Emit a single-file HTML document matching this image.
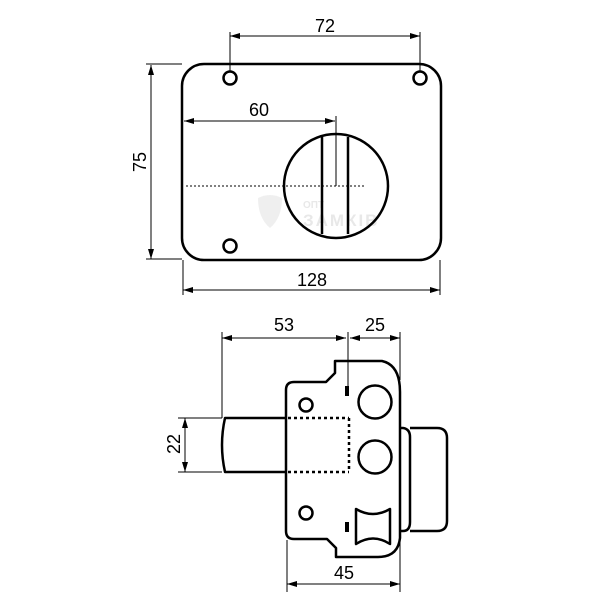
<!DOCTYPE html>
<html><head><meta charset="utf-8"><style>
html,body{margin:0;padding:0;background:#fff;}
svg{display:block;}
text{font-family:"Liberation Sans",sans-serif;font-size:18px;fill:#000;}
</style></head><body>
<svg width="600" height="600" viewBox="0 0 600 600" xmlns="http://www.w3.org/2000/svg">
<defs>
<marker id="a" viewBox="0 0 10 6" refX="10" refY="3" markerWidth="10" markerHeight="6" orient="auto-start-reverse" markerUnits="userSpaceOnUse"><path d="M0,0 L10,3 L0,6 z" fill="#000"/></marker>
</defs>
<!-- watermark -->
<g fill="#eee" opacity="0.9">
<path d="M258,198 q12,-6 24,0 q0,20 -12,30 q-12,-10 -12,-30z"/>
<text x="303" y="208" style="font-size:10px;fill:#e6e6e6;font-weight:bold">ОПТ</text>
<text x="303" y="226" style="font-size:17px;fill:#e6e6e6;font-weight:bold;letter-spacing:2px">ЗАМКІВ</text>
</g>
<!-- top plate -->
<rect x="182" y="64" width="259" height="196" rx="22" fill="none" stroke="#000" stroke-width="2.5"/>
<g fill="none" stroke="#000" stroke-width="2.5">
<circle cx="230" cy="78" r="6.5"/><circle cx="420" cy="78" r="6.5"/><circle cx="230" cy="246" r="6.5"/>
<circle cx="336" cy="186" r="52"/>
<line x1="322" y1="137" x2="322" y2="234"/><line x1="348" y1="137" x2="348" y2="234"/>
</g>
<line x1="186" y1="186" x2="366" y2="186" stroke="#000" stroke-width="1" stroke-dasharray="2,2"/>
<g stroke="#000" stroke-width="1" fill="none">
<line x1="336" y1="116" x2="336" y2="186"/>
<line x1="184" y1="121" x2="335" y2="121" marker-start="url(#a)" marker-end="url(#a)"/>
<line x1="230" y1="32" x2="230" y2="72"/><line x1="420" y1="32" x2="420" y2="72"/>
<line x1="230" y1="36" x2="420" y2="36" marker-start="url(#a)" marker-end="url(#a)"/>
<line x1="146" y1="64" x2="182" y2="64"/><line x1="146" y1="259" x2="182" y2="259"/>
<line x1="151" y1="65" x2="151" y2="259" marker-start="url(#a)" marker-end="url(#a)"/>
<line x1="183" y1="260" x2="183" y2="295"/><line x1="440" y1="260" x2="440" y2="295"/>
<line x1="183" y1="290" x2="440" y2="290" marker-start="url(#a)" marker-end="url(#a)"/>
</g>
<text x="325" y="32" text-anchor="middle">72</text>
<text x="259" y="116" text-anchor="middle">60</text>
<text x="312" y="286" text-anchor="middle">128</text>
<text transform="translate(146,162) rotate(-90)" text-anchor="middle">75</text>
<!-- bottom -->
<g fill="none" stroke="#000" stroke-width="2.5" stroke-linejoin="round">
<path d="M294,382 L326,382 L335,373 L335,361 L382,361 Q400,365 400,392 L400,538 Q398,557 378,557 L336,557 L336,548 L327,539 L294,539 Q286,539 286,531 L286,390 Q286,382 294,382 Z"/>
<circle cx="375" cy="402" r="16.5"/><circle cx="375" cy="457" r="16.5"/>
<circle cx="306" cy="405" r="6.5"/><circle cx="306" cy="513" r="6.5"/>
<path d="M286,418 L225,418 Q219,445 225,472 L286,472"/>
<path d="M400,428 L403,428 Q410,429 410,437 L410,522 Q410,531 403,531 L400,531"/>
<path d="M410,428 L437,428 Q447,428 447,438 L447,521 Q447,531 437,531 L410,531"/>
<path d="M356,509 Q373,519 390,509 L390,544 Q373,533 356,544 Z"/>
</g>
<g stroke="#000" stroke-width="2.5" fill="none" stroke-dasharray="3,3">
<line x1="288" y1="418" x2="349" y2="418"/><line x1="288" y1="472" x2="349" y2="472"/>
<line x1="349" y1="418" x2="349" y2="472"/>
</g>
<rect x="345" y="386" width="4" height="10" fill="#000"/>
<rect x="345" y="522" width="4" height="10" fill="#000"/>
<g stroke="#000" stroke-width="1" fill="none">
<line x1="348" y1="332" x2="348" y2="395"/>
<line x1="222" y1="332" x2="222" y2="418"/>
<line x1="400" y1="332" x2="400" y2="380"/>
<line x1="222" y1="338" x2="346" y2="338" marker-start="url(#a)" marker-end="url(#a)"/>
<line x1="350" y1="338" x2="400" y2="338" marker-start="url(#a)" marker-end="url(#a)"/>
<line x1="178" y1="418" x2="222" y2="418"/><line x1="178" y1="472" x2="222" y2="472"/>
<line x1="185" y1="418" x2="185" y2="472" marker-start="url(#a)" marker-end="url(#a)"/>
<line x1="287" y1="540" x2="287" y2="592"/><line x1="400" y1="540" x2="400" y2="592"/>
<line x1="287" y1="584" x2="400" y2="584" marker-start="url(#a)" marker-end="url(#a)"/>
</g>
<text x="284" y="331" text-anchor="middle">53</text>
<text x="375" y="331" text-anchor="middle">25</text>
<text x="344" y="579" text-anchor="middle">45</text>
<text transform="translate(180,444) rotate(-90)" text-anchor="middle">22</text>
</svg>
</body></html>
